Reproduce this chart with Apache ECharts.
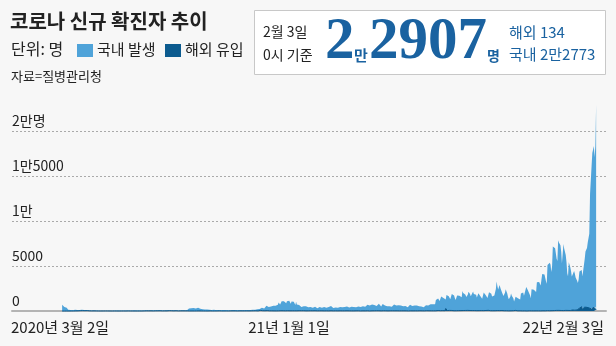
<!DOCTYPE html>
<html><head><meta charset="utf-8">
<script src="https://cdn.jsdelivr.net/npm/echarts@6/dist/echarts.min.js"></script>
<style>html,body{margin:0;padding:0;background:#f7f7f7;}#c{width:616px;height:346px;}</style>
</head><body><div id="c"></div>
<script>
// Daily values from 2020-03-02 (Mon) to 2022-02-03, one week per row
const startDate = '2020-03-02';
const domestic = [
686,600,516,438,517,482,365,
246,129,240,110,106,103,70,
69,78,85,132,72,117,72,
45,52,66,71,48,105,64,
43,78,65,53,46,54,41,
27,28,35,26,16,18,21,
11,14,17,13,12,11,4,
5,4,6,3,4,4,7,
2,5,4,3,2,2,7,
4,1,1,3,10,16,29,
33,29,24,22,25,18,12,
10,10,21,26,15,18,22,
14,16,28,68,58,30,22,
32,34,45,44,41,47,52,
36,36,45,46,54,27,30,
34,23,22,47,38,36,28,
16,29,34,19,26,19,35,
30,31,30,31,41,43,48,
24,24,39,35,24,30,19,
15,12,16,29,18,23,16,
13,8,19,11,11,28,25,
9,5,3,18,18,23,11,
15,16,24,11,20,30,24,
28,15,20,47,85,155,267,
188,235,283,276,315,322,387,
258,264,307,434,359,308,283,
238,222,253,189,189,161,159,
112,130,146,147,161,126,106,
98,91,105,145,110,99,73,
62,48,99,110,95,52,88,
40,23,102,67,52,63,51,
64,60,108,56,44,58,46,
91,84,69,98,30,54,70,
66,47,72,104,138,61,47,
101,68,88,108,96,108,101,
77,60,97,104,125,71,126,
100,75,113,113,162,176,193,
202,192,245,293,320,348,302,
255,318,363,553,525,486,413,
414,420,493,516,600,559,615,
594,562,671,662,673,930,1002,
682,848,1054,993,1036,1053,1060,
905,837,1059,955,1216,1104,946,
787,1014,1025,938,1005,798,641,
985,692,816,838,641,620,633,
419,503,532,490,487,554,500,
359,367,380,374,324,402,370,
409,322,536,475,437,439,331,
285,309,438,427,352,366,347,
270,276,427,482,384,340,304,
326,443,590,591,533,416,398,
316,340,428,375,388,395,340,
331,338,421,408,398,399,397,
333,426,467,459,463,446,441,
362,347,446,449,440,440,441,
403,326,407,409,471,468,442,
368,435,483,538,505,512,533,
459,464,649,674,614,582,604,
542,513,709,712,658,647,652,
514,519,705,705,768,772,622,
483,487,751,640,636,579,553,
478,522,663,530,500,488,441,
442,499,613,701,650,636,592,
528,502,619,628,644,585,524,
405,502,679,527,532,513,473,
401,448,605,652,660,724,534,
418,435,586,613,544,574,545,
478,488,532,522,491,427,463,
418,377,606,613,601,632,576,
474,765,718,736,816,735,720,
690,701,1187,1256,1254,1325,1120,
1047,1113,1567,1561,1492,1402,1255,
1217,1000,1713,1793,1555,1584,1420,
1274,1314,1839,1639,1675,1678,1394,
1171,1167,1683,1710,1661,1649,1431,
1446,1492,2178,1934,1941,1870,1757,
1490,1332,1739,2097,2009,1828,1575,
1370,1455,2102,1837,1791,1756,1733,
1446,1327,1901,1917,1654,1628,1442,
1331,1535,2004,2008,1843,1679,1710,
1398,1424,2031,1991,1974,1864,1561,
1540,1683,1685,1669,2389,3200,2724,
2339,2226,2845,2525,2458,2032,2049,
1641,1543,2004,2412,2144,1924,1558,
1277,1312,1544,1915,1655,1591,1384,
1041,1043,1507,1432,1492,1402,1401,
1250,1240,1930,2082,2089,2039,1666,
1667,1571,2654,2473,2325,2203,2224,
1740,1397,2405,2526,2353,2349,2398,
2401,2104,3167,3264,3014,3195,2993,
2810,2679,4084,4089,3862,4047,3905,
3283,3004,5083,5227,4907,5321,5106,
4296,4915,7116,7022,7054,6938,6933,
5753,5485,7799,7556,7352,7253,6560,
5260,5130,7407,6841,6871,6166,5356,
4132,3802,5325,5295,4822,4298,3747,
3905,3904,4271,4035,3588,3441,3248,
2988,3364,4079,4259,4219,4062,3668,
3542,3859,5375,6311,6406,6602,7238,
7203,8238,12653,14189,15865,17224,17262,
17929,16737,17880,22773
];
const overseas = [
0,0,0,0,1,1,2,
2,2,2,4,4,4,6,
5,6,8,20,15,30,26,
19,24,34,33,43,41,41,
35,47,36,36,40,40,40,
20,19,18,13,11,12,11,
14,13,10,9,10,7,4,
8,5,5,5,2,6,3,
8,9,5,6,7,6,6,
4,2,1,1,2,2,5,
2,3,2,5,2,1,3,
5,3,11,6,5,2,3,
2,3,12,11,1,9,5,
3,4,4,5,2,5,5,
2,2,5,4,2,7,4,
3,14,12,12,11,12,20,
1,7,17,9,13,20,7,
12,11,21,23,22,20,13,
24,20,24,28,20,31,13,
47,21,17,32,33,16,26,
26,37,20,26,30,86,32,
16,23,14,30,18,13,12,
15,17,18,20,23,20,14,
6,19,14,9,18,11,12,
9,11,14,12,9,10,10,
8,16,13,7,12,15,16,
10,13,14,6,9,7,8,
7,6,10,8,15,10,15,
11,15,8,8,16,11,9,
8,13,11,15,19,9,7,
10,15,11,10,11,12,13,
9,15,6,13,10,14,12,
6,18,15,12,17,19,21,
10,11,19,17,17,16,14,
18,20,15,17,18,19,23,
20,15,21,21,20,18,17,
26,25,33,30,29,29,15,
21,38,68,50,43,38,28,
16,31,19,30,44,18,37,
24,31,18,24,29,24,16,
21,32,15,20,16,20,28,
36,32,24,21,28,44,37,
21,32,33,30,25,28,24,
21,31,25,29,24,26,16,
35,23,24,31,33,21,32,
32,34,29,34,26,26,20,
30,19,24,27,22,29,22,
28,27,23,22,32,19,24,
20,27,29,24,18,27,25,
19,27,17,22,19,22,22,
18,14,31,30,28,32,18,
16,17,12,21,18,20,16,
24,17,23,16,20,19,19,
13,20,13,22,25,22,18,
20,16,23,14,23,16,15,
12,20,21,21,23,26,14,
14,12,23,13,19,20,10,
14,14,19,26,14,18,10,
14,29,22,19,15,25,20,
18,30,26,26,29,24,22,
17,25,19,29,25,27,25,
10,19,17,18,25,23,22,
21,26,22,14,23,25,18,
26,26,32,18,22,29,21,
25,14,22,28,24,20,22,
29,11,27,29,21,20,22,
18,19,16,21,24,26,20,
21,27,28,23,16,21,22,
11,18,20,20,33,26,36,
27,29,33,26,10,24,23,
21,45,25,19,62,53,41,
56,37,48,38,44,53,29,
35,278,71,49,75,45,67,
44,51,57,35,35,32,48,
48,35,42,66,43,55,64,
46,45,45,53,49,58,59,
66,40,66,55,43,54,52,
48,52,53,45,50,37,60,
41,45,60,44,55,49,48,
44,62,45,41,49,56,45,
35,73,49,53,38,46,44,
33,37,35,36,45,73,47,
44,63,44,39,28,53,36,
32,32,24,15,32,29,36,
20,35,40,25,29,27,36,
9,30,64,39,23,21,20,
16,26,22,29,15,22,20,
19,18,13,9,18,21,24,
18,28,20,24,15,19,21,
18,21,20,28,20,17,13,
17,20,32,27,39,21,23,
26,28,40,39,37,31,22,
29,39,59,80,48,39,44,
65,82,51,66,83,61,55,
58,72,49,78,48,67,62,
76,63,84,79,53,117,86,
115,120,173,91,128,70,123,
136,165,309,283,323,480,191,
317,212,430,292,363,406,392,
310,333,359,329,231,318,266,
413,342,463,134
];
const yTickValues = [0, 5000, 10000, 15000, 20000];
const yTickLabels = ['0', '5000', '1만', '1만5000', '2만명'];
const xTickLabels = ['2020년 3월 2일', '21년 1월 1일', '22년 2월 3일'];
const seriesNames = ['국내 발생', '해외 유입'];

const LIGHT = '#4fa3d9', DARK = '#0c5b8f', BLUE = '#1a62a0';
const KF = '"Noto Sans CJK KR", "Noto Sans", sans-serif';
const SF = '"Liberation Serif", "DejaVu Serif", serif';

const dayMs = 86400000;
const t0 = new Date(startDate + 'T00:00:00Z').getTime();
const domData = domestic.map((v, i) => [t0 + i * dayMs, v]);
const ovsData = overseas.map((v, i) => [t0 + i * dayMs, v]);
const tEnd = t0 + (domestic.length - 1) * dayMs;

function txt(text, x, y, font, fill, align, va) {
  return { type: 'text', x: x, y: y, silent: true,
    style: { text: text, font: font, fill: fill, textAlign: align || 'left', align: align || 'left',
             textVerticalAlign: va || 'middle', verticalAlign: va || 'middle' } };
}

const chart = echarts.init(document.getElementById('c'), null, { renderer: 'canvas' });
chart.setOption({
  backgroundColor: '#f7f7f7',
  animation: false,
  grid: { left: 12, right: 10, top: 131, bottom: 35, containLabel: false },
  xAxis: {
    type: 'time', min: t0 - 66 * dayMs, max: tEnd + 13 * dayMs,
    axisLine: { show: true, lineStyle: { color: '#b4b4b4', width: 2 } },
    axisTick: { show: false }, axisLabel: { show: false }, splitLine: { show: false }
  },
  yAxis: {
    type: 'value', min: 0, max: 20000, interval: 5000,
    axisLine: { show: false }, axisTick: { show: false },
    splitLine: { show: true, lineStyle: { color: '#aaaaaa', type: [2, 2], width: 1 } },
    axisLabel: {
      inside: true, margin: 0, align: 'left', verticalAlign: 'bottom',
      padding: [0, 0, 3, 0], color: '#222', fontSize: 14, fontFamily: KF,
      formatter: v => yTickLabels[yTickValues.indexOf(v)]
    }
  },
  series: [
    { name: seriesNames[1], type: 'line', stack: 'total', data: ovsData, symbol: 'none', z: 4,
      clip: false, lineStyle: { width: 1, color: DARK }, areaStyle: { color: DARK, opacity: 1 } },
    { name: seriesNames[0], type: 'line', stack: 'total', data: domData, symbol: 'none', z: 3,
      clip: false, lineStyle: { width: 0, color: LIGHT }, areaStyle: { color: LIGHT, opacity: 1 } }
  ],
  graphic: [
    txt('코로나 신규 확진자 추이', 10, 21.5, 'bold 20px ' + KF, '#222'),
    txt('단위: 명', 11, 49, '16px ' + KF, '#222'),
    { type: 'rect', shape: { x: 77, y: 44, width: 16, height: 13 }, style: { fill: LIGHT }, silent: true },
    txt(seriesNames[0], 97, 49, '15px ' + KF, '#222'),
    { type: 'rect', shape: { x: 165, y: 44, width: 16, height: 13 }, style: { fill: DARK }, silent: true },
    txt(seriesNames[1], 185, 49, '15px ' + KF, '#222'),
    txt('자료=질병관리청', 11, 76, '13px ' + KF, '#222'),
    { type: 'rect', shape: { x: 254.5, y: 10.5, width: 351, height: 64 },
      style: { fill: '#ffffff', stroke: '#c8c8c8', lineWidth: 1 }, silent: true },
    txt('2월 3일', 263, 31.5, '14px ' + KF, '#222'),
    txt('0시 기준', 263, 54.5, '14px ' + KF, '#222'),
    txt('2', 325, 43, 'bold 59px ' + SF, BLUE),
    txt('만', 354, 55, 'bold 15px ' + KF, BLUE),
    txt('2907', 369, 43, 'bold 59px ' + SF, BLUE),
    txt('명', 487, 56, 'bold 14px ' + KF, BLUE),
    txt('해외 134', 509, 32.5, '15px ' + KF, BLUE),
    txt('국내 2만2773', 509, 54.5, '15px ' + KF, BLUE),
    txt(xTickLabels[0], 11, 327.5, '15px ' + KF, '#222', 'left'),
    txt(xTickLabels[1], 289, 327.5, '15px ' + KF, '#222', 'center'),
    txt(xTickLabels[2], 604, 327.5, '15px ' + KF, '#222', 'right')
  ]
});
</script></body></html>
